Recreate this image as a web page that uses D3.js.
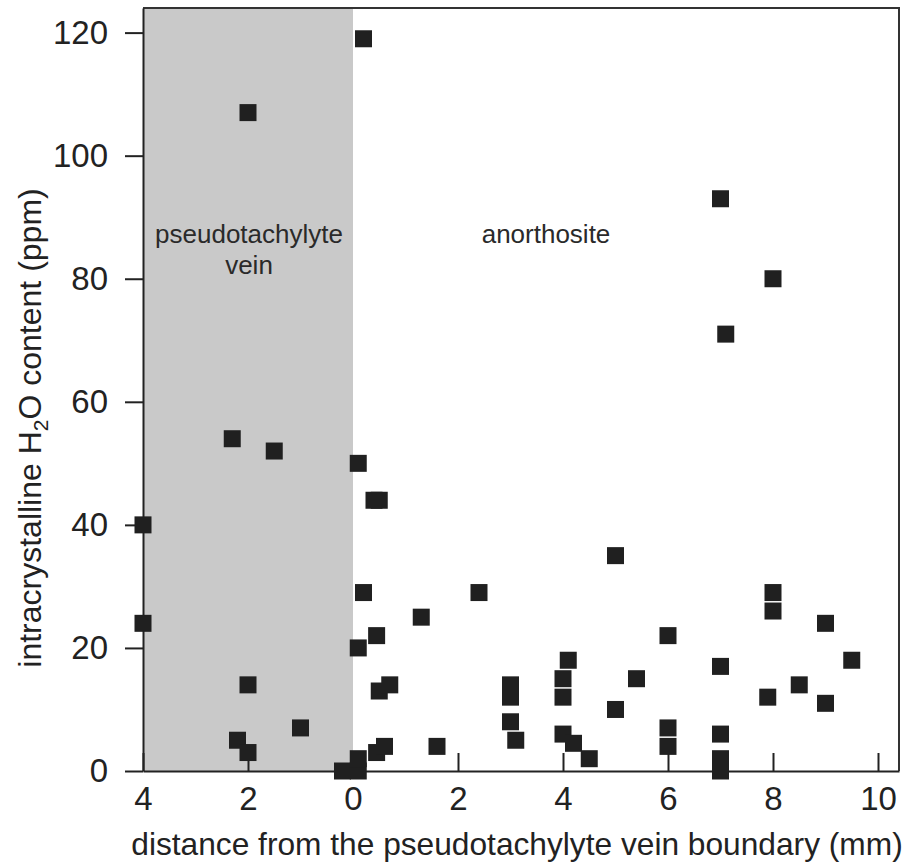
<!DOCTYPE html>
<style>
body { margin: 0; background: #fff; }
svg { font-family: "Liberation Sans", Arial, Helvetica, sans-serif; }
</style>
<svg width="914" height="866"></svg>

<script src="https://d3js.org/d3.v7.min.js"></script>
<script>

// distance from the vein boundary (mm); negative = inside the vein
var distance = [-2, -2.3, -1.5, -4, -4, -2, -2.2, -2, -1, -0.2,
  0.1, 0.1, 0.2, 0.1, 0.4, 0.5, 0.2, 0.1, 0.45, 0.5, 0.7, 0.45, 0.6,
  1.3, 1.6, 2.4, 3, 3, 3, 3.1,
  4.1, 4, 4, 4, 4.2, 4.5, 5.4, 5, 5,
  6, 6, 6, 7, 7.1, 7, 7, 7, 7,
  8, 8, 8, 7.9, 8.5, 9, 9, 9.5];
// intracrystalline H2O content (ppm)
var water = [107, 54, 52, 40, 24, 14, 5, 3, 7, 0,
  0, 2, 119, 50, 44, 44, 29, 20, 22, 13, 14, 3, 4,
  25, 4, 29, 14, 12, 8, 5,
  18, 15, 12, 6, 4.5, 2, 15, 10, 35,
  22, 7, 4, 93, 71, 17, 6, 2, 0,
  80, 29, 26, 12, 14, 24, 11, 18];

var xTicks = [-4, -2, 0, 2, 4, 6, 8, 10];
var yTicks = [0, 20, 40, 60, 80, 100, 120];

var svg = d3.select("svg");

var x = d3.scaleLinear().domain([-4, 10.4]).range([143, 899]),
    y = d3.scaleLinear().domain([0, 124]).range([771, 8]);

// vein zone
svg.append("rect")
    .attr("x", x(-4))
    .attr("y", y(124))
    .attr("width", x(0) - x(-4))
    .attr("height", y(0) - y(124))
    .attr("fill", "#c9c9c9");

// top and right border
svg.append("path")
    .attr("d", "M" + x(-4) + "," + y(124) + "H" + x(10.4) + "V" + y(0))
    .attr("fill", "none")
    .attr("stroke", "#333")
    .attr("stroke-width", 2);

svg.append("text")
    .attr("x", 249).attr("y", 243)
    .attr("text-anchor", "middle")
    .attr("font-size", 26)
    .attr("fill", "#2a2a2a")
    .text("pseudotachylyte");
svg.append("text")
    .attr("x", 249).attr("y", 274)
    .attr("text-anchor", "middle")
    .attr("font-size", 26)
    .attr("fill", "#2a2a2a")
    .text("vein");
svg.append("text")
    .attr("x", 546).attr("y", 243)
    .attr("text-anchor", "middle")
    .attr("font-size", 26)
    .attr("fill", "#2a2a2a")
    .text("anorthosite");

var xAxis = svg.append("g")
    .attr("transform", "translate(0," + y(0) + ")")
    .call(d3.axisBottom(x).tickValues(xTicks)
      .tickFormat(function(d) { return Math.abs(d); })
      .tickSizeInner(-18).tickSizeOuter(0).tickPadding(16));

var yAxis = svg.append("g")
    .attr("transform", "translate(" + x(-4) + ",0)")
    .call(d3.axisLeft(y).tickValues(yTicks)
      .tickSizeInner(18).tickSizeOuter(0).tickPadding(17));

svg.selectAll(".domain, .tick line")
    .attr("stroke", "#222")
    .attr("stroke-width", 2);
svg.selectAll(".tick text")
    .attr("font-size", 33)
    .attr("font-family", null)
    .attr("fill", "#222");

var s = 17;
svg.append("g").selectAll("rect")
    .data(distance)
  .enter().append("rect")
    .attr("x", function(d) { return x(d) - s / 2; })
    .attr("y", function(d, i) { return y(water[i]) - s / 2; })
    .attr("width", s)
    .attr("height", s)
    .attr("fill", "#202020");

svg.append("text")
    .attr("x", 517).attr("y", 855)
    .attr("text-anchor", "middle")
    .attr("font-size", 31.7)
    .attr("fill", "#222")
    .text("distance from the pseudotachylyte vein boundary (mm)");

var yt = svg.append("text")
    .attr("transform", "translate(41,428) rotate(-90)")
    .attr("text-anchor", "middle")
    .attr("font-size", 32)
    .attr("fill", "#222");
yt.append("tspan").text("intracrystalline H");
yt.append("tspan").attr("font-size", 21).attr("dy", 7).text("2");
yt.append("tspan").attr("dy", -7).text("O content (ppm)");

</script>
